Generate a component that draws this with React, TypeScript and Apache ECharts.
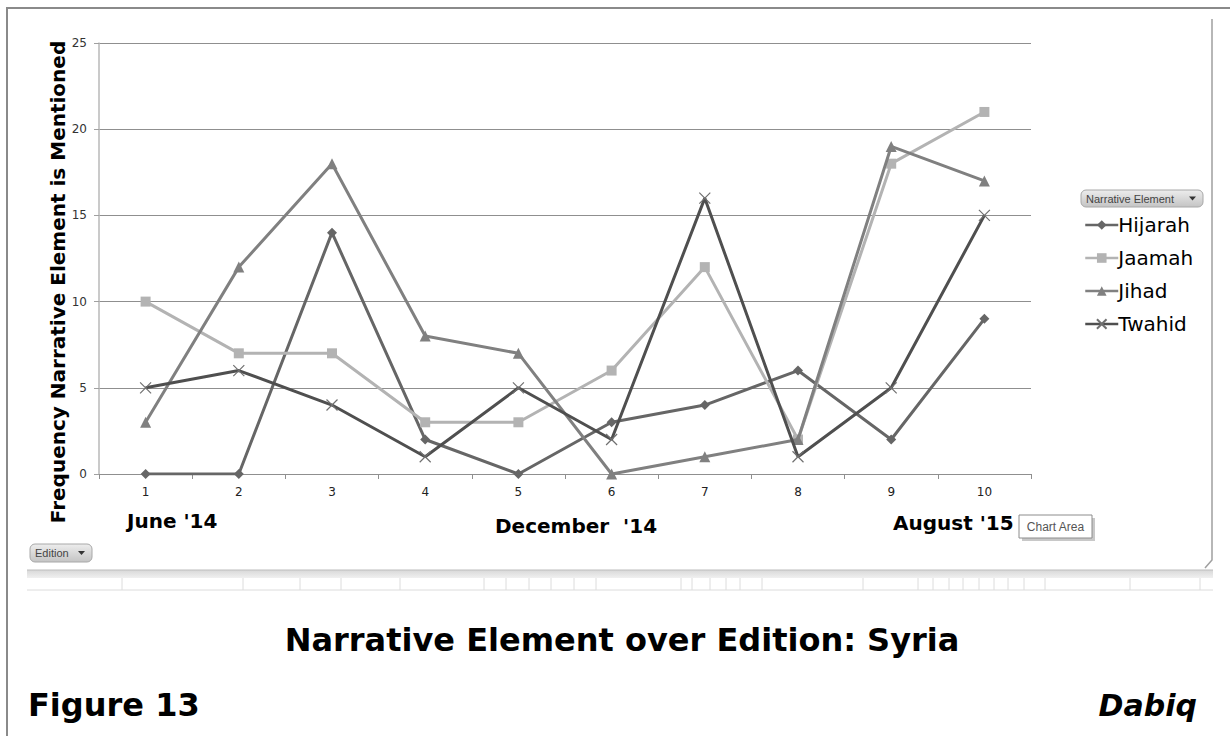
import React, { useEffect, useRef } from "react";
import * as echarts from "echarts";

const editions = ["1", "2", "3", "4", "5", "6", "7", "8", "9", "10"];
const hijarah = [0, 0, 14, 2, 0, 3, 4, 6, 2, 9];
const jaamah = [10, 7, 7, 3, 3, 6, 12, 2, 18, 21];
const jihad = [3, 12, 18, 8, 7, 0, 1, 2, 19, 17];
const twahid = [5, 6, 4, 1, 5, 2, 16, 1, 5, 15];
const seriesNames = ["Hijarah", "Jaamah", "Jihad", "Twahid"];
const sheetColumns = [122, 243, 300, 341, 400, 484, 506, 529, 551, 574, 596, 681, 692, 710, 726, 740, 762, 863, 918, 933, 949, 963, 979, 994, 1008, 1024, 1045, 1130, 1200];

const FONT = "'DejaVu Sans', Verdana, sans-serif";
const SMALL = "'Liberation Sans', Arial, sans-serif";

function button(x: number, y: number, w: number, h: number, label: string) {
  return {
    type: "group",
    x,
    y,
    children: [
      {
        type: "rect",
        shape: { x: 0, y: 0, width: w, height: h, r: 5 },
        style: {
          fill: new echarts.graphic.LinearGradient(0, 0, 0, 1, [
            { offset: 0, color: "#ededed" },
            { offset: 1, color: "#c4c4c4" },
          ]),
          stroke: "#a8a8a8",
          lineWidth: 1,
        },
      },
      {
        type: "text",
        x: 5,
        y: h / 2,
        style: { text: label, font: `11px ${SMALL}`, fill: "#444", verticalAlign: "middle" },
      },
      {
        type: "polygon",
        shape: { points: [[w - 14, h / 2 - 2], [w - 7, h / 2 - 2], [w - 10.5, h / 2 + 2]] },
        style: { fill: "#333" },
      },
    ],
  };
}

export default function App() {
  const ref = useRef<HTMLDivElement>(null);
  useEffect(() => {
    document.body.style.margin = "0";
    const chart = echarts.init(ref.current!, null, { renderer: "svg" });
    const colors = ["#666666", "#b3b3b3", "#808080", "#4f4f4f"];
    const symbols = ["diamond", "rect", "triangle", "path://M0,0L10,10M10,0L0,10"];
    const sizes = [10, 10, 11, 11];
    const data = [hijarah, jaamah, jihad, twahid];
    const graphics: any[] = [
      {
        type: "polyline",
        shape: { points: [[7, 736], [7, 8], [1230, 8]] },
        style: { stroke: "#8a8a8a", lineWidth: 2, fill: "none" },
        silent: true,
      },
      {
        type: "polyline",
        shape: { points: [[1212, 19], [1212, 560], [1205, 568]] },
        style: { stroke: "#a0a0a0", lineWidth: 1.5, fill: "none" },
      },
      {
        type: "rect",
        shape: { x: 27, y: 570, width: 1186, height: 8 },
        style: {
          fill: new echarts.graphic.LinearGradient(0, 0, 0, 1, [
            { offset: 0, color: "#d8d8d8" },
            { offset: 1, color: "#f0f0f0" },
          ]),
        },
      },
      { type: "line", shape: { x1: 27, y1: 570, x2: 1213, y2: 570 }, style: { stroke: "#bdbdbd", lineWidth: 1 } },
      { type: "line", shape: { x1: 27, y1: 590, x2: 1213, y2: 590 }, style: { stroke: "#dcdcdc", lineWidth: 1 } },
      ...sheetColumns.map((x) => ({
        type: "line",
        shape: { x1: x, y1: 578, x2: x, y2: 590 },
        style: { stroke: "#dcdcdc", lineWidth: 1 },
      })),
      {
        type: "text",
        x: 58,
        y: 282,
        rotation: Math.PI / 2,
        style: {
          text: "Frequency Narrative Element is Mentioned",
          font: `bold 20px ${FONT}`,
          fill: "#000",
          align: "center",
          verticalAlign: "middle",
        },
      },
      {
        type: "text",
        x: 127,
        y: 521,
        style: { text: "June '14", font: `bold 20px ${FONT}`, fill: "#000", verticalAlign: "middle" },
      },
      {
        type: "text",
        x: 495,
        y: 526,
        style: { text: "December  '14", font: `bold 20px ${FONT}`, fill: "#000", verticalAlign: "middle" },
      },
      {
        type: "text",
        x: 893,
        y: 523,
        style: { text: "August '15", font: `bold 20px ${FONT}`, fill: "#000", verticalAlign: "middle" },
      },
      {
        type: "rect",
        shape: { x: 1022, y: 518, width: 73, height: 23 },
        style: { fill: "#c8c8c8" },
      },
      {
        type: "rect",
        shape: { x: 1019, y: 515, width: 73, height: 23 },
        style: { fill: "#ffffff", stroke: "#8c8c8c", lineWidth: 1 },
      },
      {
        type: "text",
        x: 1055.5,
        y: 527,
        style: { text: "Chart Area", font: `12px ${SMALL}`, fill: "#555", align: "center", verticalAlign: "middle" },
      },
      button(30, 544, 62, 18, "Edition"),
      button(1081, 190, 122, 17, "Narrative Element"),
      {
        type: "text",
        x: 622,
        y: 640,
        style: {
          text: "Narrative Element over Edition: Syria",
          font: `bold 32px ${FONT}`,
          fill: "#000",
          align: "center",
          verticalAlign: "middle",
        },
      },
      {
        type: "text",
        x: 28,
        y: 705,
        style: { text: "Figure 13", font: `bold 32px ${FONT}`, fill: "#000", verticalAlign: "middle" },
      },
      {
        type: "text",
        x: 1197,
        y: 705,
        style: {
          text: "Dabiq",
          font: `italic bold 30px ${FONT}`,
          fill: "#000",
          align: "right",
          verticalAlign: "middle",
        },
      },
    ];

    chart.setOption({
      animation: false,
      backgroundColor: "#ffffff",
      grid: { left: 99, top: 43, right: 199, bottom: 262, containLabel: false },
      legend: {
        orient: "vertical",
        left: 1079,
        top: 209,
        itemWidth: 33,
        itemHeight: 12,
        itemGap: 11,
        data: seriesNames,
        lineStyle: { width: 2.5 },
        textStyle: { fontSize: 20, fontFamily: FONT, color: "#000", lineHeight: 22, padding: [0, 0, 0, -5] },
      },
      xAxis: {
        type: "category",
        data: editions,
        boundaryGap: true,
        axisLine: { lineStyle: { color: "#8f8f8f", width: 1 } },
        axisTick: { show: true, length: 5, lineStyle: { color: "#8f8f8f" } },
        axisLabel: { fontSize: 12, color: "#222", fontFamily: FONT, margin: 12 },
        splitLine: { show: false },
      },
      yAxis: {
        type: "value",
        min: 0,
        max: 25,
        interval: 5,
        axisLine: { show: true, lineStyle: { color: "#b8b8b8", width: 1.5 } },
        axisTick: { show: true, length: 5, lineStyle: { color: "#a0a0a0" } },
        axisLabel: { fontSize: 12, color: "#333", fontFamily: FONT, margin: 12 },
        splitLine: { show: true, lineStyle: { color: "#8f8f8f", width: 1 } },
      },
      series: seriesNames.map((name, i) => ({
        name,
        type: "line",
        data: data[i],
        symbol: symbols[i],
        symbolSize: sizes[i],
        showSymbol: true,
        lineStyle: { color: colors[i], width: 3 },
        itemStyle:
          i === 3
            ? { color: "#666", borderColor: "#707070", borderWidth: 1.2 }
            : { color: colors[i], borderWidth: 0 },
        z: 2 + i,
      })),
      graphic: graphics,
    });
    return () => chart.dispose();
  }, []);
  return <div ref={ref} style={{ position: "absolute", left: 0, top: 0, width: 1230, height: 736 }} />;
}
